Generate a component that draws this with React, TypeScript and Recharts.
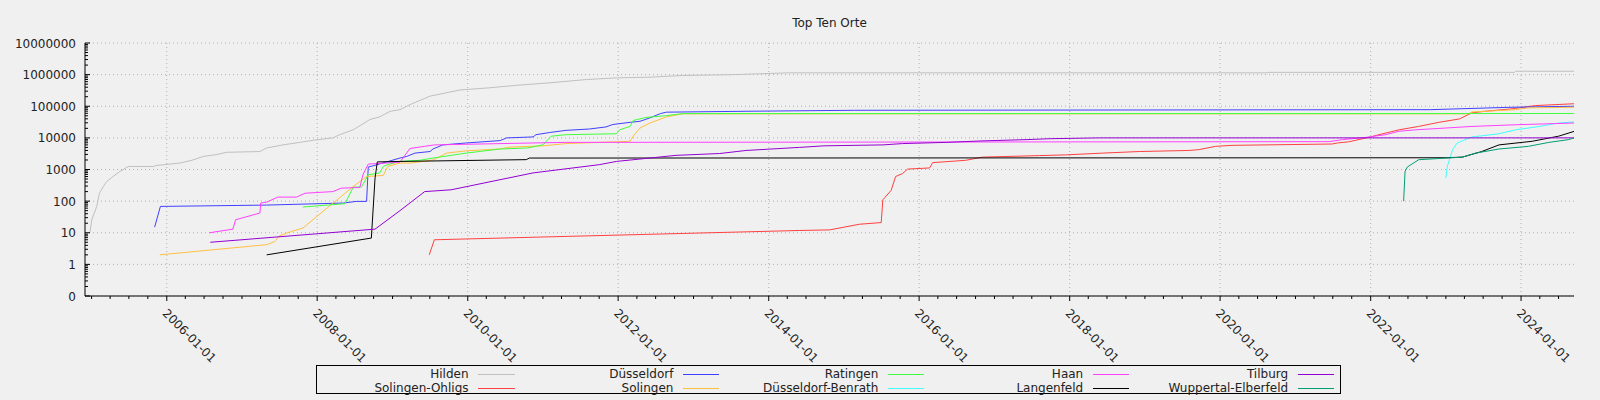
import React from "react";
import { LineChart, Line, XAxis, YAxis, CartesianGrid } from "recharts";

type Pt = [string, number];

// cumulative counts per place
const hilden: Pt[] = [
  ["2004-12-24", 10], ["2005-01-02", 26], ["2005-01-26", 68], ["2005-02-08", 178],
  ["2005-02-27", 290], ["2005-03-15", 413], ["2005-04-15", 600], ["2005-05-19", 870],
  ["2005-06-28", 1250], ["2005-10-27", 1250], ["2005-11-14", 1350], ["2006-03-07", 1600],
  ["2006-05-08", 2000], ["2006-06-28", 2600], ["2006-08-29", 2950], ["2006-10-19", 3500],
  ["2007-03-29", 3700], ["2007-05-01", 4800], ["2007-07-19", 6000], ["2007-10-08", 7200],
  ["2007-12-13", 8400], ["2008-03-17", 10000], ["2008-04-19", 12600], ["2008-06-24", 18000],
  ["2008-09-13", 38000], ["2008-10-30", 46000], ["2008-12-20", 69000], ["2009-02-06", 78000],
  ["2009-03-26", 112000], ["2009-07-02", 209000], ["2009-11-24", 327000], ["2010-04-16", 383000],
  ["2010-08-25", 460000], ["2011-02-03", 550000], ["2011-07-31", 700000], ["2011-12-24", 790000],
  ["2012-06-03", 830000], ["2012-11-10", 940000], ["2013-07-09", 1000000], ["2014-04-13", 1140000],
  ["2020-08-20", 1140000], ["2020-08-25", 1180000], ["2023-12-01", 1180000], ["2023-12-06", 1280000],
  ["2024-09-14", 1280000],
];

const solingenOhligs: Pt[] = [
  ["2009-06-28", 2], ["2009-07-23", 6], ["2014-05-30", 11.8], ["2014-10-23", 12.3],
  ["2015-03-18", 18.6], ["2015-07-01", 21], ["2015-07-09", 110], ["2015-08-18", 218],
  ["2015-09-09", 600], ["2015-10-12", 740], ["2015-11-06", 1030], ["2016-02-21", 1120],
  ["2016-03-07", 1650], ["2016-08-14", 1950], ["2016-11-03", 2460], ["2017-08-07", 2750],
  ["2017-12-13", 2900], ["2018-06-10", 3300], ["2018-12-05", 3700], ["2019-08-04", 4000],
  ["2019-09-20", 4250], ["2019-12-10", 5400], ["2020-02-28", 5800], ["2021-06-28", 6400],
  ["2021-07-23", 6900], ["2021-09-16", 7500], ["2022-01-01", 10700], ["2022-02-10", 12600],
  ["2022-05-19", 18000], ["2022-08-22", 23000], ["2022-11-28", 31000], ["2023-03-07", 39600],
  ["2023-05-08", 62000], ["2023-07-12", 69500], ["2023-11-18", 83000], ["2024-03-10", 105000],
  ["2024-09-14", 120000],
];

const duesseldorf: Pt[] = [
  ["2005-11-03", 15], ["2005-12-01", 68], ["2007-05-01", 75], ["2008-05-08", 87],
  ["2008-07-08", 98], ["2008-08-28", 98], ["2008-09-05", 1200], ["2008-09-27", 1300],
  ["2009-02-06", 2300], ["2009-03-11", 2600], ["2009-04-20", 3300], ["2009-07-02", 3700],
  ["2009-07-16", 4450], ["2009-09-02", 6000], ["2009-12-24", 6900], ["2010-06-07", 8200],
  ["2010-07-09", 10000], ["2010-11-14", 10700], ["2010-11-28", 12600], ["2011-02-03", 14800],
  ["2011-04-23", 17300], ["2011-08-15", 19100], ["2011-11-03", 22200], ["2011-12-06", 26500],
  ["2012-02-28", 31000], ["2012-04-16", 33400], ["2012-06-03", 42800], ["2012-07-24", 58500],
  ["2012-08-22", 65000], ["2013-09-13", 69400], ["2015-02-21", 74500], ["2022-10-19", 78000],
  ["2023-11-18", 93000], ["2024-09-14", 100000],
];

const solingen: Pt[] = [
  ["2005-11-28", 2], ["2007-05-01", 4.2], ["2007-06-10", 5.3], ["2007-07-01", 8],
  ["2007-08-29", 11], ["2007-10-23", 14], ["2008-06-24", 290], ["2008-08-28", 600],
  ["2008-11-17", 650], ["2008-12-09", 1250], ["2009-02-06", 1600], ["2009-04-01", 1600],
  ["2009-07-16", 2000], ["2009-09-20", 3300], ["2009-12-24", 3900], ["2010-06-07", 4450],
  ["2010-07-23", 5100], ["2011-01-01", 5600], ["2011-04-23", 6600], ["2012-02-28", 7800],
  ["2012-03-14", 11300], ["2012-04-16", 20500], ["2012-06-03", 29500], ["2012-08-22", 46000],
  ["2012-11-10", 57500], ["2023-04-20", 57500], ["2023-05-08", 66000], ["2023-12-06", 78000],
  ["2024-02-06", 89000], ["2024-09-14", 93000],
];

const ratingen: Pt[] = [
  ["2007-10-23", 65], ["2008-05-15", 83], ["2008-06-24", 275], ["2008-08-03", 280],
  ["2008-09-05", 680], ["2008-10-30", 780], ["2008-11-17", 1250], ["2008-12-09", 1430],
  ["2009-02-06", 1800], ["2009-05-12", 1950], ["2009-07-16", 2300], ["2009-12-24", 3300],
  ["2010-06-07", 4450], ["2010-10-19", 4800], ["2011-01-01", 6000], ["2011-02-10", 11300],
  ["2011-04-23", 12600], ["2011-12-24", 13500], ["2012-01-08", 18000], ["2012-02-28", 23000],
  ["2012-03-14", 35500], ["2012-05-15", 44300], ["2012-08-22", 50400], ["2012-11-10", 58500],
  ["2024-09-14", 59000],
];

const duesseldorfBenrath: Pt[] = [
  ["2023-01-01", 540], ["2023-01-08", 1250], ["2023-02-03", 4300], ["2023-02-25", 6900],
  ["2023-05-08", 10700], ["2023-09-16", 13500], ["2023-12-06", 18000], ["2024-03-29", 23000],
  ["2024-07-01", 29500], ["2024-09-14", 32000],
];

const haan: Pt[] = [
  ["2006-07-27", 10], ["2006-11-18", 13], ["2006-12-01", 25.7], ["2007-03-29", 42],
  ["2007-04-02", 87], ["2007-05-01", 93], ["2007-06-24", 134], ["2007-09-23", 134],
  ["2007-11-03", 178], ["2008-03-17", 200], ["2008-04-27", 257], ["2008-07-26", 270],
  ["2008-08-10", 680], ["2008-09-05", 1480], ["2009-02-06", 1700], ["2009-03-26", 4600],
  ["2009-06-06", 5400], ["2009-07-23", 6000], ["2010-11-14", 6900], ["2011-04-23", 7200],
  ["2021-06-13", 7600], ["2021-08-18", 8800], ["2021-12-10", 10400], ["2022-03-14", 12600],
  ["2022-05-19", 16200], ["2022-08-08", 18000], ["2023-01-01", 20500], ["2023-05-08", 23000],
  ["2023-12-06", 26000], ["2024-09-14", 29500],
];

const langenfeld: Pt[] = [
  ["2007-05-01", 2], ["2008-09-20", 6.8], ["2008-10-08", 540], ["2008-10-19", 1740],
  ["2009-02-06", 1800], ["2010-10-12", 2050], ["2010-10-27", 2300], ["2023-01-01", 2350],
  ["2023-03-22", 2460], ["2023-06-24", 3700], ["2023-09-16", 6000], ["2024-02-24", 7800],
  ["2024-07-01", 11300], ["2024-09-14", 16000],
];

const tilburg: Pt[] = [
  ["2006-07-31", 5], ["2008-10-08", 13], ["2009-02-06", 50], ["2009-06-06", 200],
  ["2009-10-12", 228], ["2010-11-14", 780], ["2011-10-01", 1420], ["2011-12-24", 1800],
  ["2012-10-08", 2800], ["2013-05-08", 3200], ["2013-09-13", 4000], ["2014-05-30", 5000],
  ["2014-09-27", 5600], ["2015-07-09", 6000], ["2015-10-12", 6600], ["2016-05-11", 7200],
  ["2016-10-27", 8000], ["2017-06-03", 8800], ["2017-09-23", 9400], ["2018-05-23", 10000],
  ["2024-09-14", 10000],
];

const wuppertalElberfeld: Pt[] = [
  ["2022-06-10", 100], ["2022-06-17", 870], ["2022-06-28", 1200], ["2022-08-22", 2040],
  ["2023-03-22", 2460], ["2023-05-26", 3300], ["2023-09-16", 4450], ["2024-02-06", 5400],
  ["2024-05-15", 7200], ["2024-08-18", 8800], ["2024-09-14", 10000],
];

const series = [
  { name: "Hilden", color: "#c0c0c0", points: hilden },
  { name: "Solingen-Ohligs", color: "#ff4040", points: solingenOhligs },
  { name: "Düsseldorf", color: "#4040ff", points: duesseldorf },
  { name: "Solingen", color: "#ffc040", points: solingen },
  { name: "Ratingen", color: "#40ff40", points: ratingen },
  { name: "Düsseldorf-Benrath", color: "#40ffff", points: duesseldorfBenrath },
  { name: "Haan", color: "#ff40ff", points: haan },
  { name: "Langenfeld", color: "#000000", points: langenfeld },
  { name: "Tilburg", color: "#9400d3", points: tilburg },
  { name: "Wuppertal-Elberfeld", color: "#009e73", points: wuppertalElberfeld },
];

const yTickLabels = ["0", "1", "10", "100", "1000", "10000", "100000", "1000000", "10000000"];
const xTickLabels = [
  "2006-01-01", "2008-01-01", "2010-01-01", "2012-01-01", "2014-01-01",
  "2016-01-01", "2018-01-01", "2020-01-01", "2022-01-01", "2024-01-01",
];

const FONT = "DejaVu Sans";

// log axis where 0 sits one decade below 1
const toLog = (v: number) => (v > 0 ? Math.log10(v) : -1);
const toRow = ([d, v]: Pt) => ({ t: Date.parse(d), y: toLog(v) });

const yMajor = yTickLabels.map((l) => toLog(Number(l)));
const yMinor: number[] = [];
for (let n = -1; n < 7; n++) {
  for (let k = 2; k <= 9; k++) yMinor.push(n + Math.log10(k));
}
const yTicks = [...yMajor, ...yMinor].sort((a, b) => a - b);

const xMajor = xTickLabels.map((l) => Date.parse(l));
const xTicks: number[] = [];
for (let yr = 2005; yr <= 2024; yr++) {
  for (let m = 0; m < 12; m += 3) {
    const t = Date.UTC(yr, m, 1);
    if (t <= Date.UTC(2024, 8, 14)) xTicks.push(t);
  }
}

const XTick = (props: any) => {
  const { x, y, payload } = props;
  const idx = xMajor.indexOf(payload.value);
  const major = idx >= 0;
  const tx = x - 5;
  const ty = y + 18;
  return (
    <g>
      <line x1={x} x2={x} y1={y} y2={y + (major ? 5 : 3)} stroke="#000" />
      {major && (
        <text
          x={tx}
          y={ty}
          transform={`rotate(45 ${tx} ${ty})`}
          textAnchor="start"
          fontSize={12}
          fontFamily={FONT}
          fill="#222"
        >
          {xTickLabels[idx]}
        </text>
      )}
    </g>
  );
};

const LeftTick = (props: any) => {
  const { x, y, payload } = props;
  const idx = yMajor.indexOf(payload.value);
  const major = idx >= 0;
  return (
    <g>
      <line x1={x} x2={x + (major ? 5 : 3)} y1={y} y2={y} stroke="#000" />
      {major && (
        <text x={x - 9} y={y} dy={4.5} textAnchor="end" fontSize={12} fontFamily={FONT} fill="#222">
          {yTickLabels[idx]}
        </text>
      )}
    </g>
  );
};

const RightTick = (props: any) => {
  const { x, y, payload } = props;
  const major = yMajor.includes(payload.value);
  return <line x1={x} x2={x - (major ? 5 : 3)} y1={y} y2={y} stroke="#000" />;
};

const ChartLegend = () => {
  const colW = 204.9;
  const left = 316;
  const width = 1025;
  return (
    <div
      style={{
        position: "absolute",
        left,
        top: 365,
        width,
        height: 29,
        border: "1px solid #000",
        boxSizing: "border-box",
      }}
    >
      {series.map((s, i) => {
        const col = Math.floor(i / 2);
        const row = i % 2;
        const textRight = 467.5 + colW * col - left;
        const top = 2 + row * 13.5;
        return (
          <React.Fragment key={s.name}>
            <div
              style={{
                position: "absolute",
                right: width - 2 - textRight,
                top,
                lineHeight: "13px",
                fontSize: 12,
                fontFamily: FONT,
                color: "#222",
                whiteSpace: "nowrap",
              }}
            >
              {s.name}
            </div>
            <div
              style={{
                position: "absolute",
                left: textRight + 9.5,
                top: top + 6,
                width: 36.5,
                height: 1,
                background: s.color,
              }}
            />
          </React.Fragment>
        );
      })}
    </div>
  );
};

export default function App() {
  return (
    <div
      style={{
        position: "absolute",
        left: 0,
        top: 0,
        width: 1600,
        height: 400,
        background: "#f0f0f0",
        fontFamily: FONT,
      }}
    >
      <div
        style={{
          position: "absolute",
          left: 0,
          width: 1659,
          top: 16,
          textAlign: "center",
          fontSize: 12,
          lineHeight: "14px",
          color: "#222",
        }}
      >
        Top Ten Orte
      </div>
      <LineChart width={1600} height={400} margin={{ top: 43, right: 26, bottom: 44, left: 5 }}>
        <CartesianGrid
          stroke="#b0b0b0"
          strokeDasharray="1 3"
          horizontalValues={yMajor}
          verticalValues={xMajor}
        />
        <XAxis
          dataKey="t"
          type="number"
          domain={[Date.UTC(2004, 10, 30), Date.UTC(2024, 8, 14)]}
          allowDataOverflow
          ticks={xTicks}
          interval={0}
          height={60}
          tickSize={0}
          tickMargin={0}
          tickLine={false}
          axisLine={{ stroke: "#000" }}
          tick={<XTick />}
        />
        <YAxis
          type="number"
          domain={[-1, 7]}
          allowDataOverflow
          ticks={yTicks}
          interval={0}
          width={80}
          tickSize={0}
          tickMargin={0}
          tickLine={false}
          axisLine={{ stroke: "#000" }}
          tick={<LeftTick />}
        />
        <YAxis
          yAxisId="r"
          orientation="right"
          type="number"
          domain={[-1, 7]}
          allowDataOverflow
          ticks={yTicks}
          interval={0}
          width={0}
          tickSize={0}
          tickMargin={0}
          tickLine={false}
          axisLine={{ stroke: "#000" }}
          tick={<RightTick />}
        />
        {series.map((s) => (
          <Line
            key={s.name}
            name={s.name}
            data={s.points.map(toRow)}
            dataKey="y"
            type="linear"
            stroke={s.color}
            strokeWidth={1}
            dot={false}
            activeDot={false}
            isAnimationActive={false}
          />
        ))}
      </LineChart>
      <ChartLegend />
    </div>
  );
}
